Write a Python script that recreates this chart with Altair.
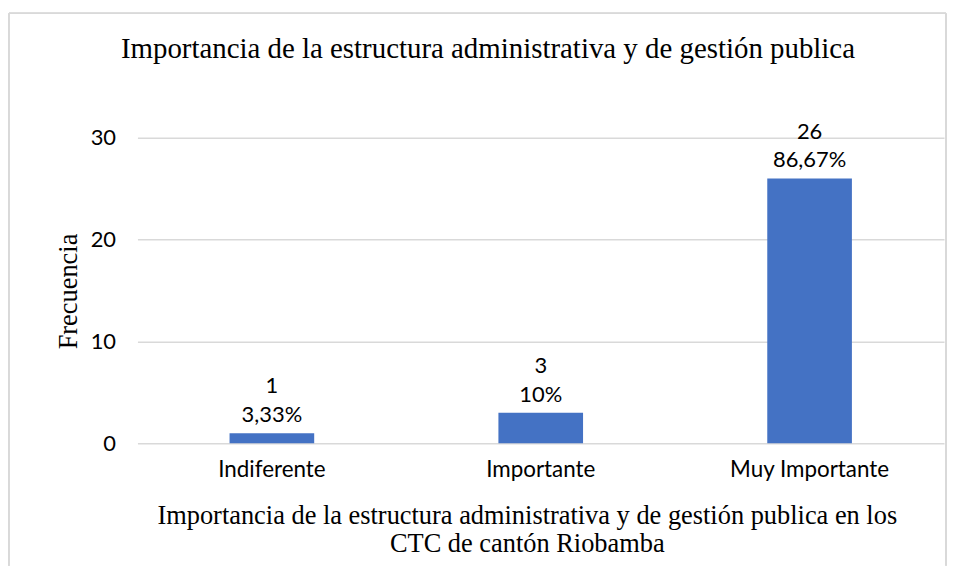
import altair as alt
import pandas as pd

categories = ["Indiferente", "Importante", "Muy Importante"]
frecuencia = [1, 3, 26]
porcentajes = ["3,33%", "10%", "86,67%"]
chart_title = "Importancia de la estructura administrativa y de gestión publica"

df = pd.DataFrame({"cat": categories, "freq": frecuencia, "pct": porcentajes})

serif = "Liberation Serif"
sans = "Lato"

x_enc = alt.X(
    "cat:N",
    sort=categories,
    scale=alt.Scale(paddingInner=0, paddingOuter=0),
    axis=alt.Axis(
        title=["Importancia de la estructura administrativa y de gestión publica en los",
               "CTC de cantón Riobamba"],
        labelAngle=0,
        labelFont=sans,
        labelFontSize=22.5,
        labelColor="#000000",
        labelPadding=15,
        ticks=False,
        domain=False,
        titleFont=serif,
        titleFontSize=26.5,
        titleFontWeight="normal",
        titleColor="#000000",
        titleX=391,
        titleY=60,
        titleBaseline="top",
        titleAnchor="middle",
        titleAlign="center",
        titleLineHeight=28,
    ),
)

y_enc = alt.Y(
    "freq:Q",
    scale=alt.Scale(domain=[0, 30]),
    axis=alt.Axis(
        title="Frecuencia",
        values=[0, 10, 20, 30],
        labelFont=sans,
        labelFontSize=22,
        labelColor="#000000",
        labelPadding=22,
        ticks=False,
        domain=False,
        grid=True,
        gridColor="#d9d9d9",
        gridWidth=1.5,
        titleFont=serif,
        titleFontSize=26.5,
        titleFontWeight="normal",
        titleColor="#000000",
        titleX=-69,
        titleY=154,
        titleAlign="center",
        titleBaseline="middle",
    ),
)

base = alt.Chart(df)

bars = base.mark_bar(size=85, color="#4472c4").encode(x=x_enc, y=y_enc)

pct_text = base.mark_text(font=sans, fontSize=22, color="#000000", baseline="middle", dy=-18).encode(
    x=alt.X("cat:N", sort=categories), y="freq:Q", text="pct:N"
)
cnt_text = base.mark_text(font=sans, fontSize=22, color="#000000", baseline="middle", dy=-47).encode(
    x=alt.X("cat:N", sort=categories), y="freq:Q", text="freq:Q"
)

title_text = alt.Chart(pd.DataFrame({"t": [chart_title]})).mark_text(
    font=serif, fontSize=29, color="#000000", baseline="middle", align="center"
).encode(x=alt.value(352), y=alt.value(-89), text="t:N")

border_l = base.mark_rule(color="#d9d9d9", strokeWidth=1.5).encode(
    x=alt.value(-129), y=alt.value(-125), y2=alt.value(430)
)
border_t = base.mark_rule(color="#d9d9d9", strokeWidth=1.5).encode(
    x=alt.value(-129), x2=alt.value(812), y=alt.value(-125)
)
border_r = base.mark_rule(color="#d9d9d9", strokeWidth=1.5).encode(
    x=alt.value(812), y=alt.value(-125), y2=alt.value(430)
)

chart = alt.layer(bars, pct_text, cnt_text, title_text, border_l, border_t, border_r).properties(
    width=810,
    height=307,
    padding={"left": 0, "top": 3, "right": 0, "bottom": 0},
).configure_view(stroke=None)

chart.save("out.html", embed_options={"renderer": "svg", "actions": False})
